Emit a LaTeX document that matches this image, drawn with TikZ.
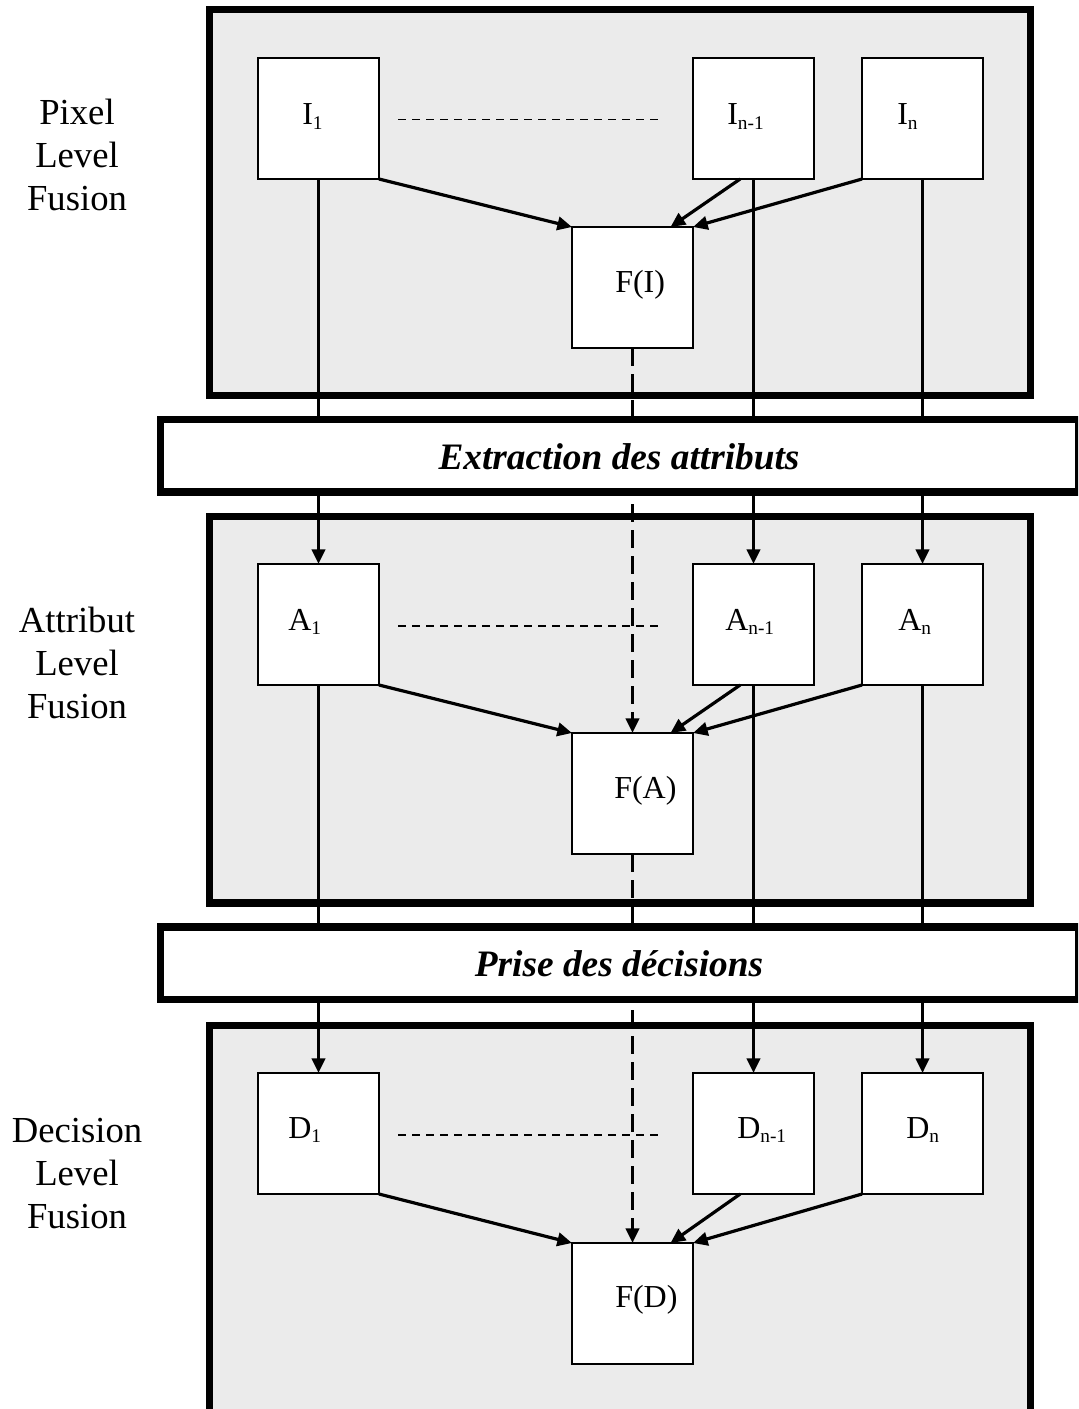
\documentclass[tikz,border=0pt]{standalone}
\usepackage{fontspec}
\setmainfont{Liberation Serif}
\usetikzlibrary{arrows.meta}
\newcommand{\sbs}[1]{\raisebox{-3.2pt}{\fontsize{14.5}{14.5}\selectfont #1}}
\begin{document}
\begin{tikzpicture}[x=0.75pt,y=-0.75pt,
  panel/.style={draw=black,line width=5.6pt,fill=black!8},
  stagebox/.style={draw=black,line width=5.6pt,fill=white},
  cell/.style={draw=black,line width=1.1pt,fill=white,minimum width=90.75pt,minimum height=90.75pt,inner sep=0pt,outer sep=0pt},
  lab/.style={font=\fontsize{24}{24}\selectfont,inner sep=0pt,anchor=base west},
  side/.style={font=\fontsize{27.5}{31.9}\selectfont,align=center,inner sep=0pt,anchor=base},
  stagetext/.style={font=\fontsize{28}{28}\selectfont\bfseries\itshape,inner sep=0pt,anchor=base},
  flow/.style={line width=2.4pt,-{Triangle[length=11pt,width=10pt]}},
  dflow/.style={line width=2.4pt,dash pattern=on 13.5pt off 6pt,-{Triangle[length=11pt,width=10pt]}},
  dots/.style={line width=1pt,dash pattern=on 6pt off 4.5pt}]
\useasboundingbox (0,0) rectangle (1078,1409);
\clip (0,0) rectangle (1078,1409);
% panels
\path[panel] (209.5,9.5) rectangle (1030.5,395.5);
\path[panel] (209.5,516.5) rectangle (1030.5,903);
\path[panel] (209.5,1025.5) rectangle (1030.5,1414);
% boxes
\node[cell] (I1) at (318.5,118.5) {};
\node[cell] (In1) at (753.5,118.5) {};
\node[cell] (In) at (922.5,118.5) {};
\node[cell] (FI) at (632.5,287.5) {};
\node[cell] (A1) at (318.5,624.5) {};
\node[cell] (An1) at (753.5,624.5) {};
\node[cell] (An) at (922.5,624.5) {};
\node[cell] (FA) at (632.5,793.5) {};
\node[cell] (D1) at (318.5,1133.5) {};
\node[cell] (Dn1) at (753.5,1133.5) {};
\node[cell] (Dn) at (922.5,1133.5) {};
\node[cell] (FD) at (632.5,1303.5) {};
% vertical links between levels
\foreach \a/\b in {I1/A1,In1/An1,In/An,A1/D1,An1/Dn1,An/Dn}
  \draw[flow] (\a.south) -- (\b.north);
\draw[dflow] (FI.south) -- (FA.north);
\draw[dflow] (FA.south) -- (FD.north);
% fusion arrows
\foreach \r in {I,A,D}{
  \draw[flow] (\r1.south east) -- (F\r.north west);
  \draw[flow] ([xshift=-10pt]\r n1.south) -- ([xshift=28.5pt]F\r.north);
  \draw[flow] (\r n.south west) -- (F\r.north east);
  \draw[dots] ([xshift=14.25pt,yshift=-1pt]\r1.east) -- ([xshift=-26.25pt,yshift=-1pt]\r n1.west);
}
% stage boxes
\path[stagebox] (160.5,419.5) rectangle (1078.5,492);
\path[stagebox] (160.5,927) rectangle (1078.5,999.5);
\node[stagetext] (ext) at (619,469) {Extraction des attributs};
\node[stagetext] (dec) at (619,976) {Prise des décisions};
% labels
\node[lab] (tI1) at (302,125) {I\sbs{1}};
\node[lab] (tIn1) at (727,125) {I\sbs{n-1}};
\node[lab] (tIn) at (897,125) {I\sbs{n}};
\node[lab] (tFI) at (615,292) {F(I)};
\node[lab] (tA1) at (288,630) {A\sbs{1}};
\node[lab] (tAn1) at (725,630) {A\sbs{n-1}};
\node[lab] (tAn) at (898,630) {A\sbs{n}};
\node[lab] (tFA) at (614,798) {F(A)};
\node[lab] (tD1) at (288,1138) {D\sbs{1}};
\node[lab] (tDn1) at (737,1138) {D\sbs{n-1}};
\node[lab] (tDn) at (906,1138) {D\sbs{n}};
\node[lab] (tFD) at (615,1307) {F(D)};
% side labels (base = last line)
\node[side] (pix) at (77,210) {Pixel\\Level\\Fusion};
\node[side] (att) at (77,718) {Attribut\\Level\\Fusion};
\node[side] (dcs) at (77,1228) {Decision\\Level\\Fusion};
\end{tikzpicture}
\end{document}
